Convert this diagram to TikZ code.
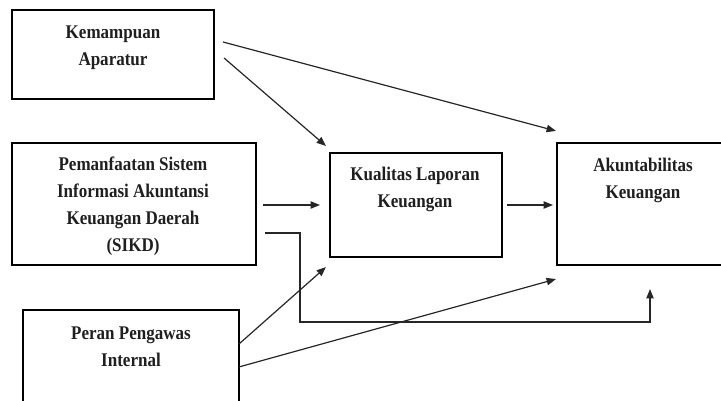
\documentclass[tikz,border=0pt]{standalone}
\usepackage{fontspec}
\setmainfont{Liberation Serif}[FakeStretch=0.88]
\usetikzlibrary{arrows.meta,calc}
\begin{document}
\begin{tikzpicture}[x=0.75pt,y=-0.75pt,
  box/.style={draw=black, line width=1.6pt, inner sep=0pt, fill=none},
  lbl/.style={align=center, inner sep=0pt, font=\fontsize{14.5pt}{20.25pt}\selectfont\bfseries, text=black!88},
  conn/.style={draw=black!85, line width=0.9pt, -{Triangle[length=7pt,width=5.5pt]}}]
\clip (0,0) rectangle (721,400);
% boxes
\node[box, minimum width=151.5pt, minimum height=66.75pt] (b1) at (113,54.5) {};
\node[box, minimum width=183pt, minimum height=91.5pt] (b2) at (134,204) {};
\node[box, minimum width=162pt, minimum height=82.5pt] (b3) at (131,365) {};
\node[box, minimum width=129pt, minimum height=78pt] (b4) at (416,205) {};
\node[box, minimum width=137.25pt, minimum height=91.5pt] (b5) at (648.5,204) {};
% texts
\node[lbl] (t1) at (113,47.5) {Kemampuan\\Aparatur};
\node[lbl] (t2) at (133,206.5) {Pemanfaatan Sistem\\Informasi Akuntansi\\Keuangan Daerah\\(SIKD)};
\node[lbl] (t3) at (131,346.5) {Peran Pengawas\\Internal};
\node[lbl] (t4) at (415,189) {Kualitas Laporan\\Keuangan};
\node[lbl] (t5) at (643,180) {Akuntabilitas\\Keuangan};
% connectors
\draw[conn] ($(b1.east)+(8,-12.5)$) -- ($(b5.north west)+(0,-11)$);
\draw[conn] ($(b1.east)+(9,3.5)$) -- ($(b4.north west)+(-3,-6)$);
\draw[conn] ($(b2.east)+(6,1)$) -- ($(b4.west)+(-9,0)$);
\draw[conn] ($(b2.east)+(8,29)$) -- ($(b2.east)+(43,29)$) |- ($(b5.south)+(1.5,56)$) -- ($(b5.south)+(1.5,23)$);
\draw[conn] ($(b3.north east)+(-1,35)$) -- ($(b4.south west)+(-3,9)$);
\draw[conn] ($(b3.north east)+(-1,58)$) -- ($(b5.south west)+(0,13)$);
\draw[conn] ($(b4.east)+(4,0)$) -- ($(b5.west)+(-3,1)$);
\end{tikzpicture}
\end{document}
